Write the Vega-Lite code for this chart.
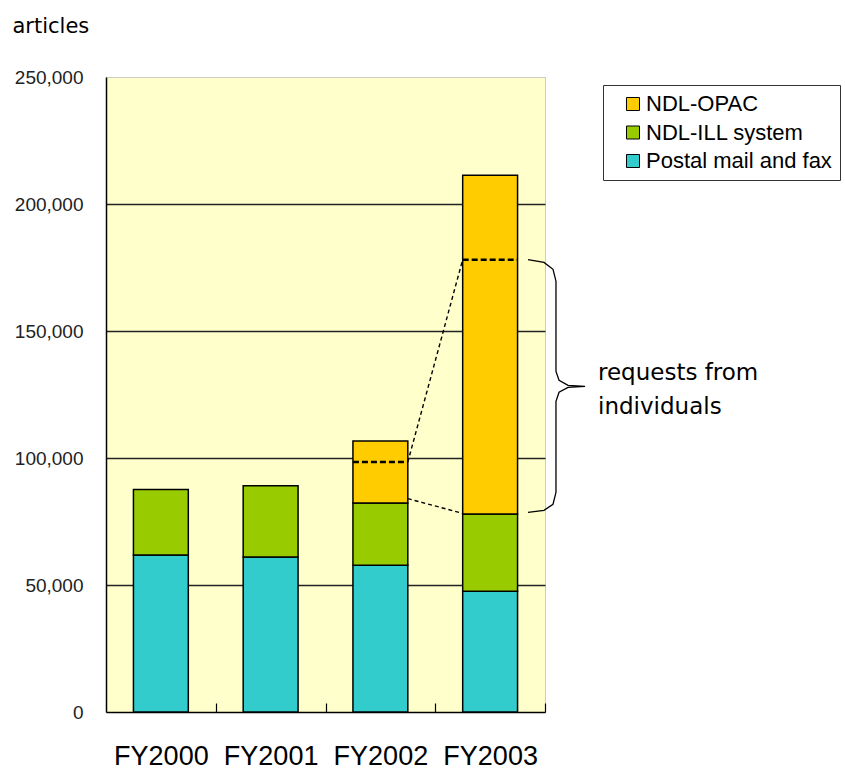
{
  "$schema": "https://vega.github.io/schema/vega-lite/v6.json",
  "width": 439,
  "height": 635,
  "autosize": {"type": "none"},
  "padding": {"left": 106, "top": 77, "right": 300, "bottom": 57},
  "background": "white",
  "config": {
    "view": {"fill": "#FFFFCC", "stroke": "#999999", "strokeDash": [1, 1], "strokeWidth": 1},
    "font": "Liberation Sans"
  },
  "layer": [
    {
      "data": {
        "values": [
          {"year": "FY2000", "source": "Postal mail and fax", "count": 61800, "rank": 1},
          {"year": "FY2000", "source": "NDL-ILL system", "count": 25800, "rank": 2},
          {"year": "FY2001", "source": "Postal mail and fax", "count": 61000, "rank": 1},
          {"year": "FY2001", "source": "NDL-ILL system", "count": 28100, "rank": 2},
          {"year": "FY2002", "source": "Postal mail and fax", "count": 57800, "rank": 1},
          {"year": "FY2002", "source": "NDL-ILL system", "count": 24500, "rank": 2},
          {"year": "FY2002", "source": "NDL-OPAC", "count": 24400, "rank": 3},
          {"year": "FY2003", "source": "Postal mail and fax", "count": 47500, "rank": 1},
          {"year": "FY2003", "source": "NDL-ILL system", "count": 30500, "rank": 2},
          {"year": "FY2003", "source": "NDL-OPAC", "count": 133300, "rank": 3}
        ]
      },
      "mark": {"type": "bar", "stroke": "black", "strokeWidth": 1.5},
      "encoding": {
        "x": {
          "field": "year", "type": "nominal", "sort": null,
          "scale": {"paddingInner": 0.5, "paddingOuter": 0.25},
          "axis": {
            "title": null, "labelAngle": 0, "labelFontSize": 27, "labelColor": "black",
            "labelBaseline": "alphabetic", "labelPadding": 61,
            "tickBand": "center", "tickOffset": 54.875, "labelOffset": -54.875,
            "tickSize": -9, "tickColor": "black", "tickWidth": 1.2,
            "domainColor": "black", "domainWidth": 1.5
          }
        },
        "y": {
          "field": "count", "type": "quantitative", "stack": "zero", "title": "articles",
          "scale": {"domain": [0, 250000], "nice": false},
          "axis": {
            "values": [0, 50000, 100000, 150000, 200000, 250000],
            "labelExpr": "format(datum.value, ',')",
            "title": "articles", "titleAngle": 0, "titleX": -94, "titleY": -45,
            "titleAlign": "left", "titleBaseline": "alphabetic",
            "titleFont": "DejaVu Sans", "titleFontSize": 21, "titleFontWeight": "normal", "titleColor": "black",
            "labelFontSize": 19, "labelColor": "#222222", "labelPadding": 23,
            "ticks": false,
            "domainColor": "black", "domainWidth": 1.5,
            "grid": true,
            "gridColor": {"condition": {"test": "datum.value == 250000 || datum.value == 0", "value": "transparent"}, "value": "#222222"},
            "gridWidth": 1.3
          }
        },
        "color": {
          "field": "source", "type": "nominal",
          "scale": {"domain": ["NDL-OPAC", "NDL-ILL system", "Postal mail and fax"], "range": ["#FFCC00", "#99CC00", "#33CCCC"]},
          "legend": {
            "orient": "none", "legendX": 497, "legendY": 8, "title": null,
            "fillColor": "white", "strokeColor": "#333333", "padding": 8,
            "labelFontSize": 22, "labelColor": "black", "labelLimit": 400,
            "symbolType": "square", "symbolSize": 169, "symbolStrokeColor": "black",
            "symbolStrokeWidth": 1, "symbolOpacity": 1,
            "rowPadding": 6.5, "labelOffset": 2, "symbolOffset": 11
          }
        },
        "order": {"field": "rank", "type": "quantitative"}
      }
    },
    {
      "data": {"values": [{"x1": 2.25, "x2": 2.75, "v": 98400}, {"x1": 3.25, "x2": 3.75, "v": 178100}]},
      "mark": {"type": "rule", "strokeDash": [6, 3], "strokeWidth": 2.5, "color": "black"},
      "encoding": {
        "x": {"field": "x1", "type": "quantitative", "scale": {"domain": [0, 4], "nice": false, "zero": false}, "axis": null},
        "x2": {"field": "x2"},
        "y": {"field": "v", "type": "quantitative", "title": "articles"}
      }
    },
    {
      "data": {"values": [
        {"x1": 2.75, "y1": 98400, "x2": 3.25, "y2": 178100},
        {"x1": 2.75, "y1": 84000, "x2": 3.25, "y2": 78200}
      ]},
      "mark": {"type": "rule", "strokeDash": [4, 3], "strokeWidth": 1.4, "color": "black"},
      "encoding": {
        "x": {"field": "x1", "type": "quantitative", "scale": {"domain": [0, 4], "nice": false, "zero": false}, "axis": null},
        "x2": {"field": "x2"},
        "y": {"field": "y1", "type": "quantitative", "title": "articles"},
        "y2": {"field": "y2"}
      }
    },
    {
      "data": {"values": [
        {"i": 1, "bx": 3.845, "by": 178100},
        {"i": 2, "bx": 3.991, "by": 177000},
        {"i": 3, "bx": 4.073, "by": 174300},
        {"i": 4, "bx": 4.1, "by": 169600},
        {"i": 5, "bx": 4.1, "by": 134100},
        {"i": 6, "bx": 4.128, "by": 130600},
        {"i": 7, "bx": 4.21, "by": 128600},
        {"i": 8, "bx": 4.365, "by": 128200},
        {"i": 9, "bx": 4.21, "by": 127800},
        {"i": 10, "bx": 4.128, "by": 125900},
        {"i": 11, "bx": 4.1, "by": 122300},
        {"i": 12, "bx": 4.1, "by": 86500},
        {"i": 13, "bx": 4.073, "by": 81800},
        {"i": 14, "bx": 3.991, "by": 79400},
        {"i": 15, "bx": 3.845, "by": 78600}
      ]},
      "mark": {"type": "line", "color": "black", "strokeWidth": 1.3, "interpolate": "linear"},
      "encoding": {
        "x": {"field": "bx", "type": "quantitative", "scale": {"domain": [0, 4], "nice": false, "zero": false}, "axis": null},
        "y": {"field": "by", "type": "quantitative", "title": "articles"},
        "order": {"field": "i", "type": "quantitative"}
      }
    },
    {
      "data": {"values": [{"tx": 4.483, "ty": 133300, "label": "requests from\nindividuals"}]},
      "mark": {"type": "text", "align": "left", "baseline": "middle", "lineBreak": "\n", "lineHeight": 34, "font": "DejaVu Sans", "fontSize": 23, "color": "black"},
      "encoding": {
        "x": {"field": "tx", "type": "quantitative", "scale": {"domain": [0, 4], "nice": false, "zero": false}, "axis": null},
        "y": {"field": "ty", "type": "quantitative", "title": "articles"},
        "text": {"field": "label"}
      }
    }
  ],
  "resolve": {"scale": {"x": "independent"}}
}
